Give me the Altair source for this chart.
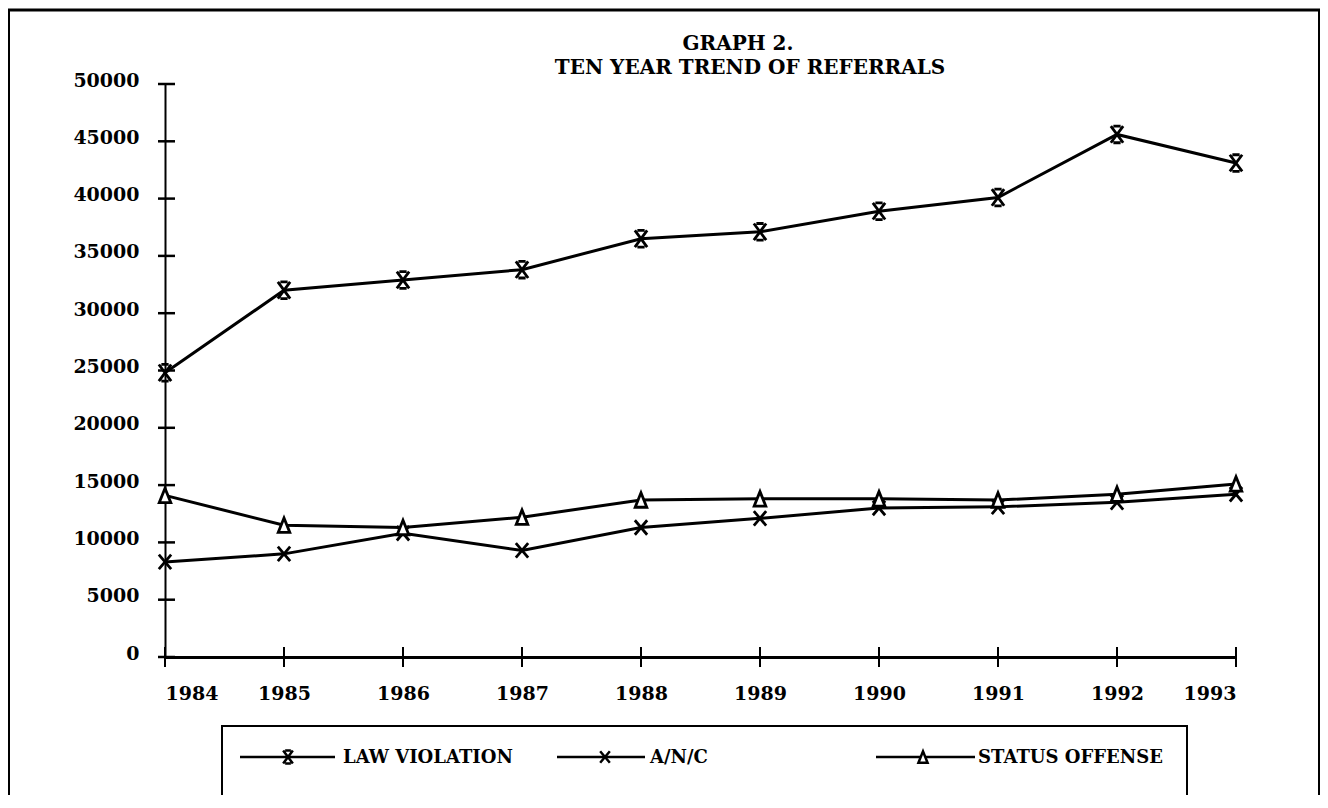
import altair as alt
import pandas as pd

# ---- data ----
years = [1984, 1985, 1986, 1987, 1988, 1989, 1990, 1991, 1992, 1993]
law_violation = [24800, 32000, 32900, 33800, 36500, 37100, 38900, 40100, 45600, 43100]
anc = [8300, 9000, 10800, 9300, 11300, 12100, 13000, 13100, 13500, 14200]
status_offense = [14100, 11500, 11300, 12200, 13700, 13800, 13800, 13700, 14200, 15100]
series_names = ["LAW VIOLATION", "A/N/C", "STATUS OFFENSE"]
y_ticks = [0, 5000, 10000, 15000, 20000, 25000, 30000, 35000, 40000, 45000, 50000]
title_lines = ["GRAPH 2.", "TEN YEAR TREND OF REFERRALS"]

rows = []
for name, vals in zip(series_names, [law_violation, anc, status_offense]):
    for yr, v in zip(years, vals):
        rows.append({"year": yr, "value": v, "series": name})
df = pd.DataFrame(rows)

W, H = 1071, 573
FONT = "DejaVu Serif"

law_path = "M-0.85,-1.15L0.85,1.15M0.85,-1.15L-0.85,1.15M-0.5,-1.15L0.5,-1.15M-0.5,1.15L0.5,1.15"
x_path = "M-0.85,-1L0.85,1M0.85,-1L-0.85,1"
tri_path = "M-0.8,1L0,-1L0.8,1Z"
shapes = [law_path, x_path, tri_path]

xs = alt.Scale(domain=[1984, 1993], nice=False, zero=False)
ys = alt.Scale(domain=[0, 50000], nice=False)

base = alt.Chart(df)

lines = base.mark_line(color="black", strokeWidth=3).encode(
    x=alt.X("year:Q", scale=xs,
            axis=alt.Axis(values=years, format="d", title=None, grid=False, ticks=False, tickSize=0,
                          labelPadding=27, domainWidth=3, domainColor="black",
                          labelFont=FONT, labelFontWeight="bold", labelFontSize=19, labelColor="black")),
    y=alt.Y("value:Q", scale=ys,
            axis=alt.Axis(values=y_ticks, format="d", title=None, grid=False, ticks=False, tickSize=0,
                          labelPadding=26, labelOffset=-4, domainWidth=2, domainColor="black",
                          labelFont=FONT, labelFontWeight="bold", labelFontSize=19, labelColor="black")),
    detail="series:N",
)

points = base.mark_point(filled=False, fill="white", fillOpacity=1, stroke="black", strokeWidth=2.8, opacity=1).encode(
    x=alt.X("year:Q", scale=xs),
    y=alt.Y("value:Q", scale=ys),
    shape=alt.Shape("series:N", scale=alt.Scale(domain=series_names, range=shapes), legend=None),
    size=alt.value(210),
)

# axis ticks crossing the axes
ytick_df = pd.DataFrame({"v": y_ticks})
yticks = alt.Chart(ytick_df).mark_rule(color="black", strokeWidth=2.5).encode(
    y=alt.Y("v:Q", scale=ys), x=alt.value(-7), x2=alt.value(10)
)
xtick_df = pd.DataFrame({"year": years})
xticks = alt.Chart(xtick_df).mark_rule(color="black", strokeWidth=2).encode(
    x=alt.X("year:Q", scale=xs), y=alt.value(H - 10), y2=alt.value(H + 10)
)

one = alt.Data(values=[{}])

title1 = alt.Chart(one).mark_text(text=title_lines[0], font=FONT, fontWeight="bold", fontSize=20,
                                  color="black", align="center", baseline="middle").encode(
    x=alt.value(573), y=alt.value(-40))
title2 = alt.Chart(one).mark_text(text=title_lines[1], font=FONT, fontWeight="bold", fontSize=20,
                                  color="black", align="center", baseline="middle").encode(
    x=alt.value(585), y=alt.value(-16))

# outer frame (left, top, right)
frame_l = alt.Chart(one).mark_rule(color="black", strokeWidth=2).encode(
    x=alt.value(-156), y=alt.value(-75), y2=alt.value(H + 140))
frame_t = alt.Chart(one).mark_rule(color="black", strokeWidth=3).encode(
    x=alt.value(-157), x2=alt.value(1155), y=alt.value(-74))
frame_r = alt.Chart(one).mark_rule(color="black", strokeWidth=2).encode(
    x=alt.value(1154), y=alt.value(-75), y2=alt.value(H + 140))

# legend box
legend_box = alt.Chart(one).mark_rect(fill="white", fillOpacity=0, stroke="black", strokeWidth=2).encode(
    x=alt.value(57), x2=alt.value(1022), y=alt.value(642), y2=alt.value(713))

LY = 673
legend_pos = [  # (line start, line end, marker x, text x)
    (75, 170, 123, 178),
    (392, 480, 440, 485),
    (711, 810, 758, 813),
]
legend_layers = []
for name, shp, (l1, l2, mx, tx) in zip(series_names, shapes, legend_pos):
    legend_layers.append(alt.Chart(one).mark_rule(color="black", strokeWidth=2.5).encode(
        x=alt.value(l1), x2=alt.value(l2), y=alt.value(LY)))
    legend_layers.append(alt.Chart(one).mark_point(shape=shp, filled=False, fill="white", fillOpacity=1,
                                                   stroke="black", strokeWidth=2.5, opacity=1, size=130).encode(
        x=alt.value(mx), y=alt.value(LY)))
    legend_layers.append(alt.Chart(one).mark_text(text=name, font=FONT, fontWeight="bold", fontSize=18,
                                                  color="black", align="left", baseline="middle").encode(
        x=alt.value(tx), y=alt.value(LY + 1)))

chart = alt.layer(
    lines, yticks, xticks, points, title1, title2, frame_l, frame_t, frame_r, legend_box, *legend_layers
).properties(
    width=W, height=H,
    padding={"left": 157, "top": 76, "right": 84, "bottom": 138},
    autosize=alt.AutoSizeParams(type="none"),
    background="white",
).configure_view(stroke=None, clip=False)

chart.save("out.html", embed_options={"renderer": "svg", "actions": False})
